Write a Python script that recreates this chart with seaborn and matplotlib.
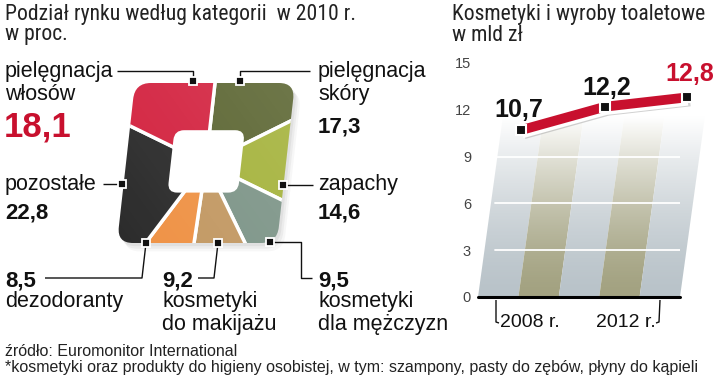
import numpy as np
import matplotlib
matplotlib.use("Agg")
import matplotlib.pyplot as plt
import seaborn as sns
from matplotlib import font_manager as fm
from matplotlib.patches import FancyBboxPatch
from matplotlib.transforms import Affine2D
import matplotlib.patheffects as pe

# ---------------- data ----------------
share_labels = ["pielęgnacja skóry", "zapachy", "kosmetyki dla mężczyzn",
                "kosmetyki do makijażu", "dezodoranty", "pozostałe", "pielęgnacja włosów"]
share_values = [17.3, 14.6, 9.5, 9.2, 8.5, 22.8, 18.1]
share_colors = ["#5a6430", "#a4b23a", "#7c9487", "#c29862", "#ef9245", "#2b2b2b", "#d3223f"]

stripe_years = [2008, 2009, 2010, 2011, 2012]
stripe_colors = ["#b9c3c9", "#a3a281", "#b9c3c9", "#a3a281", "#b9c3c9"]
sales_years = [2008, 2010, 2012]
sales_values = [10.7, 12.2, 12.8]
sales_labels = ["10,7", "12,2", "12,8"]
sales_label_colors = ["#111111", "#111111", "#c8102e"]
y_ticks = [0, 3, 6, 9, 12, 15]
year_labels = ["2008 r.", "2012 r."]

# ---------------- fonts ----------------
sns.set_theme(style="white")
avail = {f.name for f in fm.fontManager.ttflist}
def pick(*names):
    for n in names:
        if n in avail:
            return n
    return "DejaVu Sans"
NARROW = pick("Liberation Sans Narrow", "Roboto Condensed", "Liberation Sans")
SANS = pick("Liberation Sans", "Arimo", "Roboto")
plt.rcParams["font.family"] = [SANS, "DejaVu Sans"]

W, H = 720, 376
fig = plt.figure(figsize=(7.2, 3.76), dpi=100)
fig.patch.set_facecolor("white")

# ---------------- left: square "donut" ----------------
cx, cy, s = 206, 163, 80   # centre in px, px per unit
axp = fig.add_axes([(cx - 120) / W, (H - (cy + 120)) / H, 240 / W, 240 / H])
wedges, _ = axp.pie(share_values, colors=share_colors, startangle=90, counterclock=False,
                    radius=1.8, wedgeprops=dict(edgecolor="white", linewidth=2.5))
axp.set_xlim(-1.5, 1.5)
axp.set_ylim(-1.5, 1.5)
axp.set_aspect("equal")
axp.axis("off")
skew = Affine2D().skew_deg(6.4, 0) + axp.transData

# shadow
for i, a in enumerate([0.10, 0.08, 0.06]):
    off = 0.03 + 0.025 * i
    sh = FancyBboxPatch((-1, -1), 2, 2, boxstyle="round,pad=0,rounding_size=0.2",
                        facecolor="#777777", edgecolor="none", alpha=a, zorder=0,
                        transform=Affine2D().skew_deg(6.4, 0).translate(off, -off * 1.3) + axp.transData)
    axp.add_patch(sh)

clip = FancyBboxPatch((-1, -1), 2, 2, boxstyle="round,pad=0,rounding_size=0.2",
                      facecolor="none", edgecolor="none", transform=skew)
axp.add_patch(clip)
for w in wedges:
    w.set_transform(skew)
    w.set_clip_on(True)
    w.set_clip_path(clip)
    w.set_zorder(2)

# soft light shading across the shape
shade = np.zeros((200, 200, 4))
yy, xx = np.mgrid[0:1:200j, 0:1:200j]
shade[..., :3] = 1.0
shade[..., 3] = np.clip(0.13 * (xx * 0.6 + (1 - yy) * 0.4), 0, 1)
im = axp.imshow(shade, extent=(-1.2, 1.2, -1.1, 1.1), origin="upper", zorder=3,
                interpolation="bilinear", aspect="auto")
im.set_clip_path(clip)
hole = FancyBboxPatch((-0.44, -0.37), 0.88, 0.78, boxstyle="round,pad=0,rounding_size=0.12",
                      facecolor="white", edgecolor="none", transform=skew, zorder=5)
axp.add_patch(hole)
axp.set_xlim(-1.5, 1.5)
axp.set_ylim(-1.5, 1.5)

# ---------------- right: line chart ----------------
ax_h = 16 * 15.6
axr = fig.add_axes([478 / W, (H - 297) / H, 202 / W, ax_h / H])
axr.set_xlim(-0.5, 4.5)
axr.set_ylim(0, 16)
k = 0.138 * ax_h / 202
tr = axr.transScale + axr.transLimits + Affine2D(np.array([[1, k, 0], [0, 1, 0], [0, 0, 1.0]])) + axr.transAxes

pos = {y: i for i, y in enumerate(stripe_years)}
bars = axr.bar([pos[y] for y in stripe_years], [16] * len(stripe_years), width=1.0,
               color=stripe_colors, linewidth=0, zorder=1)
for b in bars:
    b.set_transform(tr)
    b.set_clip_on(False)

# fade to white towards the top
vals = np.linspace(0, 16.5, 400)
alpha = np.clip(vals / 11.5, 0, 1) ** 1.5
grad = np.ones((400, 1, 4))
grad[:, 0, 3] = alpha
axr.imshow(grad, extent=(-0.5, 5.6, 0, 16.5), origin="lower", aspect="auto",
           zorder=2, clip_on=False, interpolation="bilinear")

for yv in [3, 6, 9, 12]:
    axr.axhline(yv, xmin=0.085, xmax=1.0, color="white", lw=1.3, zorder=3)
axr.axhline(0, xmin=0, xmax=1, color="black", lw=2.2, zorder=4, clip_on=False)

xs = [pos[y] for y in sales_years]
sns.lineplot(x=xs, y=sales_values, ax=axr, color="#c8102e", linewidth=7, zorder=6,
             transform=tr, solid_capstyle="butt", clip_on=False,
             path_effects=[pe.SimpleLineShadow(offset=(2, -3), shadow_color="#999999", alpha=0.45),
                           pe.Stroke(linewidth=12, foreground="white"), pe.Normal()])
axr.plot(xs, sales_values, "s", ms=6.5, mfc="#111111", mec="white", mew=1.5,
         transform=tr, zorder=7, clip_on=False)
offs = [(-2, 6), (1, 5), (2, 8)]
for x, v, lab, col, o in zip(xs, sales_values, sales_labels, sales_label_colors, offs):
    axr.annotate(lab, xy=(x, v), xycoords=tr, xytext=o, textcoords="offset points",
                 ha="center", va="bottom", fontsize=18, fontweight="bold", color=col, zorder=8)

axr.set_xlim(-0.5, 4.5)
axr.set_ylim(0, 16)
axr.set_xticks([])
axr.set_yticks(y_ticks)
axr.set_yticklabels([str(t) for t in y_ticks], fontsize=10.5, color="#444444")
axr.tick_params(axis="y", length=0, pad=5)
for sp in axr.spines.values():
    sp.set_visible(False)
axr.set_facecolor("none")
axr.grid(False)

# ---------------- overlay for text & leaders ----------------
axo = fig.add_axes([0, 0, 1, 1])
axo.set_xlim(0, W)
axo.set_ylim(H, 0)
axo.axis("off")
axo.set_zorder(10)
axo.patch.set_alpha(0)

def T(x, y, s, size=15.5, **kw):
    axo.text(x, y, s, fontsize=size, va="baseline", ha=kw.pop("ha", "left"), **kw)

NF = [NARROW, "DejaVu Sans"]
T(5, 20, "Podział rynku według kategorii  w 2010 r.", size=15.6, family=NF, color="#222222")
T(5, 40, "w proc.", size=15.6, family=NF, color="#222222")
T(452, 20, "Kosmetyki i wyroby toaletowe", size=15.6, family=NF, color="#222222")
T(452, 41, "w mld zł", size=15.6, family=NF, color="#222222")

T(5, 77, "pielęgnacja", color="#111111")
T(5, 100, "włosów", color="#111111")
T(4, 136, "18,1", size=25, fontweight="bold", color="#c8102e")
T(318, 77, "pielęgnacja", color="#111111")
T(318, 100, "skóry", color="#111111")
T(318, 133, "17,3", size=16, fontweight="bold", color="#111111")
T(5, 190, "pozostałe", color="#111111")
T(5, 218, "22,8", size=16, fontweight="bold", color="#111111")
T(318, 190, "zapachy", color="#111111")
T(318, 218, "14,6", size=16, fontweight="bold", color="#111111")
T(5, 286, "8,5", size=16, fontweight="bold", color="#111111")
T(5, 307, "dezodoranty", color="#111111")
T(162, 286, "9,2", size=16, fontweight="bold", color="#111111")
T(162, 307, "kosmetyki", color="#111111")
T(162, 330, "do makijażu", color="#111111")
T(318, 286, "9,5", size=16, fontweight="bold", color="#111111")
T(318, 307, "kosmetyki", color="#111111")
T(318, 330, "dla mężczyzn", color="#111111")

T(5, 356, "źródło: Euromonitor International", size=11.5, color="#222222")
T(5, 372, "*kosmetyki oraz produkty do higieny osobistej, w tym: szampony, pasty do zębów, płyny do kąpieli",
  size=11.5, color="#222222")

# year labels with brackets
T(500, 327, year_labels[0], size=14, color="#111111")
T(656, 327, year_labels[1], size=14, color="#111111", ha="right")
lk = dict(color="#111111", lw=1.0, solid_capstyle="butt")
axo.plot([496, 496, 499], [300, 322, 323], **lk)
axo.plot([660, 659, 656], [300, 322, 323], **lk)

# leader lines
axo.plot([117, 193, 193], [71, 71, 80], **lk)
axo.plot([310, 240, 240], [71, 71, 80], **lk)
axo.plot([103, 122], [184, 184], **lk)
axo.plot([283, 313], [185, 185], **lk)
axo.plot([146, 142, 45], [243, 278, 278], **lk)
axo.plot([218, 214, 198], [243, 278, 278], **lk)
axo.plot([270, 301, 301, 312], [242, 242, 278, 278], **lk)
mk = [(193, 81), (240, 81), (122, 184), (283, 185), (146, 243), (218, 243), (270, 242)]
axo.plot([m[0] for m in mk], [m[1] for m in mk], "s", ms=6, mfc="#111111", mec="white", mew=1.3)

fig.savefig("out.png", dpi=100, facecolor="white")
